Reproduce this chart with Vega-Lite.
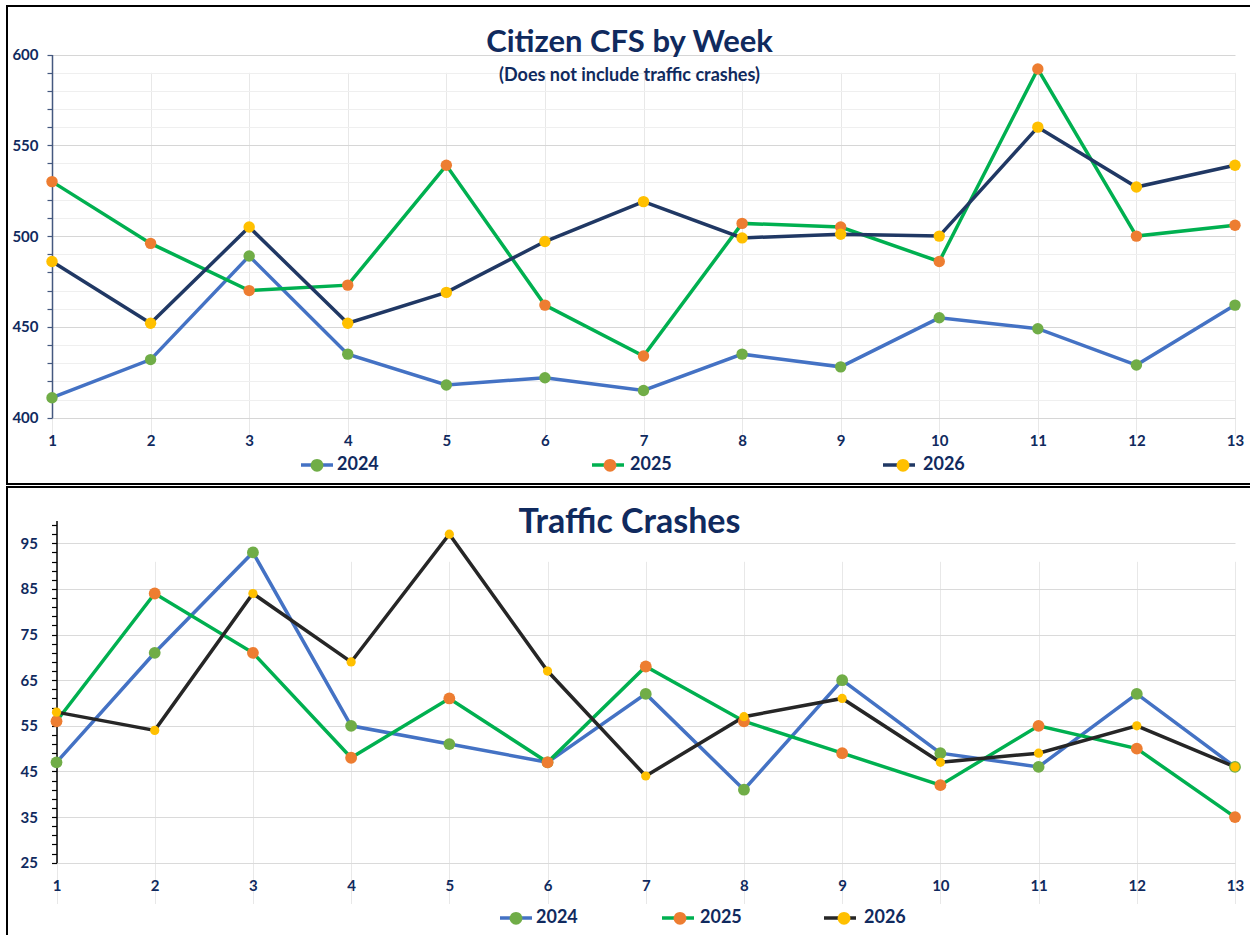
{
  "$schema": "https://vega.github.io/schema/vega-lite/v6.json",
  "padding": {"left": 6, "top": 5, "right": 0, "bottom": 0},
  "background": "white",
  "spacing": 1,
  "config": {"font": "Lato"},
  "datasets": {
    "cfs": [
      {"week": 1, "year": "2024", "value": 411}, {"week": 2, "year": "2024", "value": 432}, {"week": 3, "year": "2024", "value": 489}, {"week": 4, "year": "2024", "value": 435}, {"week": 5, "year": "2024", "value": 418}, {"week": 6, "year": "2024", "value": 422}, {"week": 7, "year": "2024", "value": 415}, {"week": 8, "year": "2024", "value": 435}, {"week": 9, "year": "2024", "value": 428}, {"week": 10, "year": "2024", "value": 455}, {"week": 11, "year": "2024", "value": 449}, {"week": 12, "year": "2024", "value": 429}, {"week": 13, "year": "2024", "value": 462},
      {"week": 1, "year": "2025", "value": 530}, {"week": 2, "year": "2025", "value": 496}, {"week": 3, "year": "2025", "value": 470}, {"week": 4, "year": "2025", "value": 473}, {"week": 5, "year": "2025", "value": 539}, {"week": 6, "year": "2025", "value": 462}, {"week": 7, "year": "2025", "value": 434}, {"week": 8, "year": "2025", "value": 507}, {"week": 9, "year": "2025", "value": 505}, {"week": 10, "year": "2025", "value": 486}, {"week": 11, "year": "2025", "value": 592}, {"week": 12, "year": "2025", "value": 500}, {"week": 13, "year": "2025", "value": 506},
      {"week": 1, "year": "2026", "value": 486}, {"week": 2, "year": "2026", "value": 452}, {"week": 3, "year": "2026", "value": 505}, {"week": 4, "year": "2026", "value": 452}, {"week": 5, "year": "2026", "value": 469}, {"week": 6, "year": "2026", "value": 497}, {"week": 7, "year": "2026", "value": 519}, {"week": 8, "year": "2026", "value": 499}, {"week": 9, "year": "2026", "value": 501}, {"week": 10, "year": "2026", "value": 500}, {"week": 11, "year": "2026", "value": 560}, {"week": 12, "year": "2026", "value": 527}, {"week": 13, "year": "2026", "value": 539}
    ],
    "crashes": [
      {"week": 1, "year": "2024", "value": 47}, {"week": 2, "year": "2024", "value": 71}, {"week": 3, "year": "2024", "value": 93}, {"week": 4, "year": "2024", "value": 55}, {"week": 5, "year": "2024", "value": 51}, {"week": 6, "year": "2024", "value": 47}, {"week": 7, "year": "2024", "value": 62}, {"week": 8, "year": "2024", "value": 41}, {"week": 9, "year": "2024", "value": 65}, {"week": 10, "year": "2024", "value": 49}, {"week": 11, "year": "2024", "value": 46}, {"week": 12, "year": "2024", "value": 62}, {"week": 13, "year": "2024", "value": 46},
      {"week": 1, "year": "2025", "value": 56}, {"week": 2, "year": "2025", "value": 84}, {"week": 3, "year": "2025", "value": 71}, {"week": 4, "year": "2025", "value": 48}, {"week": 5, "year": "2025", "value": 61}, {"week": 6, "year": "2025", "value": 47}, {"week": 7, "year": "2025", "value": 68}, {"week": 8, "year": "2025", "value": 56}, {"week": 9, "year": "2025", "value": 49}, {"week": 10, "year": "2025", "value": 42}, {"week": 11, "year": "2025", "value": 55}, {"week": 12, "year": "2025", "value": 50}, {"week": 13, "year": "2025", "value": 35},
      {"week": 1, "year": "2026", "value": 58}, {"week": 2, "year": "2026", "value": 54}, {"week": 3, "year": "2026", "value": 84}, {"week": 4, "year": "2026", "value": 69}, {"week": 5, "year": "2026", "value": 97}, {"week": 6, "year": "2026", "value": 67}, {"week": 7, "year": "2026", "value": 44}, {"week": 8, "year": "2026", "value": 57}, {"week": 9, "year": "2026", "value": 61}, {"week": 10, "year": "2026", "value": 47}, {"week": 11, "year": "2026", "value": 49}, {"week": 12, "year": "2026", "value": 55}, {"week": 13, "year": "2026", "value": 46}
    ]
  },
  "vconcat": [
    {
      "width": 1245,
      "height": 478,
      "view": {"stroke": "#000000", "strokeWidth": 2, "fill": "white"},
      "title": {
        "text": "Citizen CFS by Week",
        "subtitle": "(Does not include traffic crashes)",
        "offset": -80,
        "anchor": "middle",
        "frame": "group",
        "font": "Lato",
        "fontSize": 31,
        "fontWeight": "bold",
        "color": "#102A5E",
        "subtitleFont": "Lato",
        "subtitleFontSize": 18,
        "subtitleFontWeight": "bold",
        "subtitleColor": "#102A5E",
        "subtitlePadding": 8
      },
      "data": {"name": "cfs"},
      "encoding": {
        "x": {
          "field": "week", "type": "quantitative",
          "scale": {"domain": [1, 13], "range": [45, 1228], "nice": false, "zero": false},
          "axis": {
            "title": null, "offset": -66.3, "format": "d",
            "values": [1, 1.5, 2, 2.5, 3, 3.5, 4, 4.5, 5, 5.5, 6, 6.5, 7, 7.5, 8, 8.5, 9, 9.5, 10, 10.5, 11, 11.5, 12, 12.5, 13],
            "labelExpr": "datum.value % 1 === 0 ? datum.label : ''",
            "ticks": false, "tickSize": 0, "domain": false,
            "grid": true, "gridColor": "#E8E8E8", "gridWidth": 1,
            "labelFont": "Lato", "labelFontWeight": "bold", "labelFontSize": 15, "labelColor": "#102A5E",
            "labelPadding": 16, "labelFlush": false, "labelOverlap": false
          }
        },
        "y": {
          "field": "value", "type": "quantitative",
          "scale": {"domain": [400, 600], "range": [411.7, 48.5], "nice": false, "zero": false},
          "axis": {
            "title": null, "offset": -45,
            "values": [400, 410, 420, 430, 440, 450, 460, 470, 480, 490, 500, 510, 520, 530, 540, 550, 560, 570, 580, 590, 600],
            "labelExpr": "datum.value % 50 === 0 ? datum.label : ''",
            "grid": true,
            "gridColor": {"condition": {"test": "datum.value % 50 === 0", "value": "#D6D6D6"}, "value": "#EFEFEF"},
            "domain": true, "domainColor": "#44587F", "domainWidth": 1.5,
            "ticks": true, "tickColor": "#44587F", "tickSize": 5, "tickWidth": 1.2,
            "labelFont": "Lato", "labelFontWeight": "bold", "labelFontSize": 15, "labelColor": "#102A5E",
            "labelPadding": 9, "labelOverlap": false
          }
        }
      },
      "layer": [
        {
          "mark": {"type": "line", "strokeWidth": 3.5},
          "encoding": {
            "stroke": {
              "field": "year", "type": "nominal",
              "scale": {"domain": ["2024", "2025", "2026"], "range": ["#4472C4", "#00B050", "#203864"]},
              "legend": {
                "orient": "none", "legendX": 292, "legendY": 441, "direction": "horizontal", "columns": 3,
                "symbolType": "stroke", "symbolSize": 1024, "symbolStrokeWidth": 3.5,
                "labelOffset": 2, "columnPadding": 245, "gridAlign": "all", "padding": 0,
                "labelExpr": "''",
                "labelFont": "Lato", "labelFontWeight": "bold", "labelFontSize": 18, "labelColor": "#102A5E",
                "title": null, "zindex": 1
              }
            }
          }
        },
        {
          "mark": {"type": "point", "filled": true, "size": 130, "opacity": 1, "strokeWidth": 0},
          "encoding": {
            "fill": {
              "field": "year", "type": "nominal",
              "scale": {"domain": ["2024", "2025", "2026"], "range": ["#70AD47", "#ED7D31", "#FFC000"]},
              "legend": {
                "orient": "none", "legendX": 292, "legendY": 441, "direction": "horizontal", "columns": 3,
                "symbolType": "M-0.4,0A0.4,0.4,0,1,1,0.4,0A0.4,0.4,0,1,1,-0.4,0Z", "symbolSize": 1024,
                "symbolStrokeWidth": 3.5, "symbolStrokeColor": "transparent",
                "labelOffset": 2, "columnPadding": 213, "gridAlign": "all", "padding": 0,
                "labelFont": "Lato", "labelFontWeight": "bold", "labelFontSize": 18, "labelColor": "#102A5E",
                "title": null, "zindex": 2
              }
            }
          }
        }
      ],
      "resolve": {
        "scale": {"stroke": "independent", "fill": "independent"},
        "legend": {"stroke": "independent", "fill": "independent"}
      }
    },
    {
      "width": 1245,
      "height": 450,
      "view": {"stroke": "#000000", "strokeWidth": 2, "fill": "white"},
      "title": {
        "text": "Traffic Crashes",
        "offset": -52.6,
        "anchor": "middle",
        "frame": "group",
        "font": "Lato",
        "fontSize": 34,
        "fontWeight": "bold",
        "color": "#102A5E"
      },
      "data": {"name": "crashes"},
      "encoding": {
        "x": {
          "field": "week", "type": "quantitative",
          "scale": {"domain": [1, 13], "range": [49.5, 1228], "nice": false, "zero": false},
          "axis": {
            "title": null, "offset": -74.3, "format": "d",
            "values": [1, 1.5, 2, 2.5, 3, 3.5, 4, 4.5, 5, 5.5, 6, 6.5, 7, 7.5, 8, 8.5, 9, 9.5, 10, 10.5, 11, 11.5, 12, 12.5, 13],
            "labelExpr": "datum.value % 1 === 0 ? datum.label : ''",
            "ticks": false, "tickSize": 0, "domain": false,
            "grid": true, "gridColor": "#E8E8E8", "gridWidth": 1,
            "labelFont": "Lato", "labelFontWeight": "bold", "labelFontSize": 15, "labelColor": "#102A5E",
            "labelPadding": 16, "labelFlush": false, "labelOverlap": false
          }
        },
        "y": {
          "field": "value", "type": "quantitative",
          "scale": {"domain": [25, 100], "range": [375.7, 33.5], "nice": false, "zero": false},
          "axis": {
            "title": null, "offset": -49.5,
            "values": [25, 27, 29, 31, 33, 35, 37, 39, 41, 43, 45, 47, 49, 51, 53, 55, 57, 59, 61, 63, 65, 67, 69, 71, 73, 75, 77, 79, 81, 83, 85, 87, 89, 91, 93, 95, 97, 99],
            "labelExpr": "(datum.value - 25) % 10 === 0 ? datum.label : ''",
            "grid": true,
            "gridColor": "#DADADA",
            "gridOpacity": {"condition": {"test": "(datum.value - 25) % 10 === 0", "value": 1}, "value": 0},
            "domain": true, "domainColor": "#000000", "domainWidth": 1.5,
            "ticks": true, "tickColor": "#000000", "tickSize": 5, "tickWidth": 1.2,
            "labelFont": "Lato", "labelFontWeight": "bold", "labelFontSize": 15, "labelColor": "#102A5E",
            "labelPadding": 14, "labelOverlap": false
          }
        }
      },
      "layer": [
        {
          "mark": {"type": "line", "strokeWidth": 3.5},
          "encoding": {
            "stroke": {
              "field": "year", "type": "nominal",
              "scale": {"domain": ["2024", "2025", "2026"], "range": ["#4472C4", "#00B050", "#262626"]},
              "legend": {
                "orient": "none", "legendX": 491, "legendY": 413, "direction": "horizontal", "columns": 3,
                "symbolType": "stroke", "symbolSize": 1024, "symbolStrokeWidth": 3.5,
                "labelOffset": 2, "columnPadding": 116, "gridAlign": "all", "padding": 0,
                "labelExpr": "''",
                "labelFont": "Lato", "labelFontWeight": "bold", "labelFontSize": 18, "labelColor": "#102A5E",
                "title": null, "zindex": 1
              }
            }
          }
        },
        {
          "mark": {"type": "point", "filled": true, "opacity": 1, "strokeWidth": 0},
          "encoding": {
            "fill": {
              "field": "year", "type": "nominal",
              "scale": {"domain": ["2024", "2025", "2026"], "range": ["#70AD47", "#ED7D31", "#FFC000"]},
              "legend": {
                "orient": "none", "legendX": 491, "legendY": 413, "direction": "horizontal", "columns": 3,
                "symbolType": "M-0.4,0A0.4,0.4,0,1,1,0.4,0A0.4,0.4,0,1,1,-0.4,0Z", "symbolSize": 1024,
                "symbolStrokeWidth": 3.5, "symbolStrokeColor": "transparent",
                "labelOffset": 2, "columnPadding": 84, "gridAlign": "all", "padding": 0,
                "labelFont": "Lato", "labelFontWeight": "bold", "labelFontSize": 18, "labelColor": "#102A5E",
                "title": null, "zindex": 2
              }
            },
            "size": {"condition": {"test": "datum.year === '2026'", "value": 85}, "value": 140}
          }
        }
      ],
      "resolve": {
        "scale": {"stroke": "independent", "fill": "independent"},
        "legend": {"stroke": "independent", "fill": "independent"}
      }
    }
  ]
}
